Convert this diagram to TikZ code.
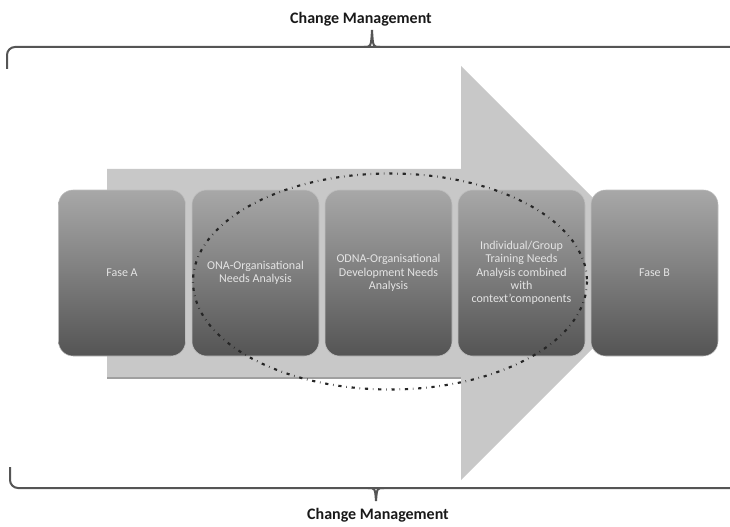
\documentclass[tikz,border=0pt]{standalone}
\usepackage{fontspec}
\setmainfont{Carlito}
\usepackage{xcolor}
\usepackage{tikz}
\usetikzlibrary{shapes,arrows}

\definecolor{arrowgray}{RGB}{200,200,200}
\definecolor{arrowshade}{RGB}{160,160,160}
\definecolor{boxtop}{RGB}{168,168,168}
\definecolor{boxbottom}{RGB}{84,84,84}
\definecolor{boxedge}{RGB}{190,190,190}
\definecolor{boxtext}{RGB}{228,228,228}
\definecolor{bracegray}{RGB}{85,85,85}

\tikzset{
  fasebox/.style={rounded corners=11pt, minimum width=95.25pt, minimum height=124.5pt,
    top color=boxtop, bottom color=boxbottom, draw=boxedge, line width=0.4pt,
    text=boxtext, align=center, inner sep=0pt,
    font=\fontsize{9}{10}\selectfont},
  braceline/.style={draw=bracegray, line width=1.5pt},
  cmlabel/.style={font=\bfseries\fontsize{12}{14}\selectfont, text=black!90, inner sep=0.75pt}
}

\begin{document}
\begin{tikzpicture}[x=0.75pt,y=0.75pt,yscale=-1,xscale=1]
        \useasboundingbox (0,0) rectangle (730,527);
        % big arrow
        \fill[arrowgray] (107,169) -- (461,169) -- (461,66) -- (668,273) -- (461,480) -- (461,378) -- (107,378) -- cycle ;
        \draw[arrowshade, line width=1.2pt] (107,378) -- (461,378) ;

        % phases
        \draw (122,273) node [fasebox] (faseA) {Fase A};
        \draw (255.5,273) node [fasebox] (ona) {ONA-Organisational\\Needs Analysis};
        \draw (388.5,273) node [fasebox] (odna) {ODNA-Organisational\\Development Needs\\Analysis};
        \draw (521.5,273) node [fasebox] (itna) {Individual/Group\\Training Needs\\Analysis combined\\with\\context’components};
        \draw (654.5,273) node [fasebox] (faseB) {Fase B};

        % dotted ellipse
        \draw[black!85, line width=1.6pt, dash pattern=on 2.4pt off 3.6pt on 0.4pt off 3.6pt] (390,281.5) ellipse (197 and 108) ;

        % top brace
        \draw[braceline, rounded corners=6pt] (7,69) -- (7,47) -- (740,47) ;
        \draw[braceline] (364,47) .. controls (371,47) .. (372,30) ;
        \draw[braceline] (380,47) .. controls (373,47) .. (372,30) ;
        \draw (361,19) node [cmlabel] (cmtop) {Change Management};

        % bottom brace
        \draw[braceline, rounded corners=6pt] (10,467) -- (10,488) -- (740,488) ;
        \draw[braceline] (368,488) .. controls (375,488) .. (376,501) ;
        \draw[braceline] (384,488) .. controls (377,488) .. (376,501) ;
        \draw (378,515) node [cmlabel] (cmbottom) {Change Management};
    \end{tikzpicture}
\end{document}
